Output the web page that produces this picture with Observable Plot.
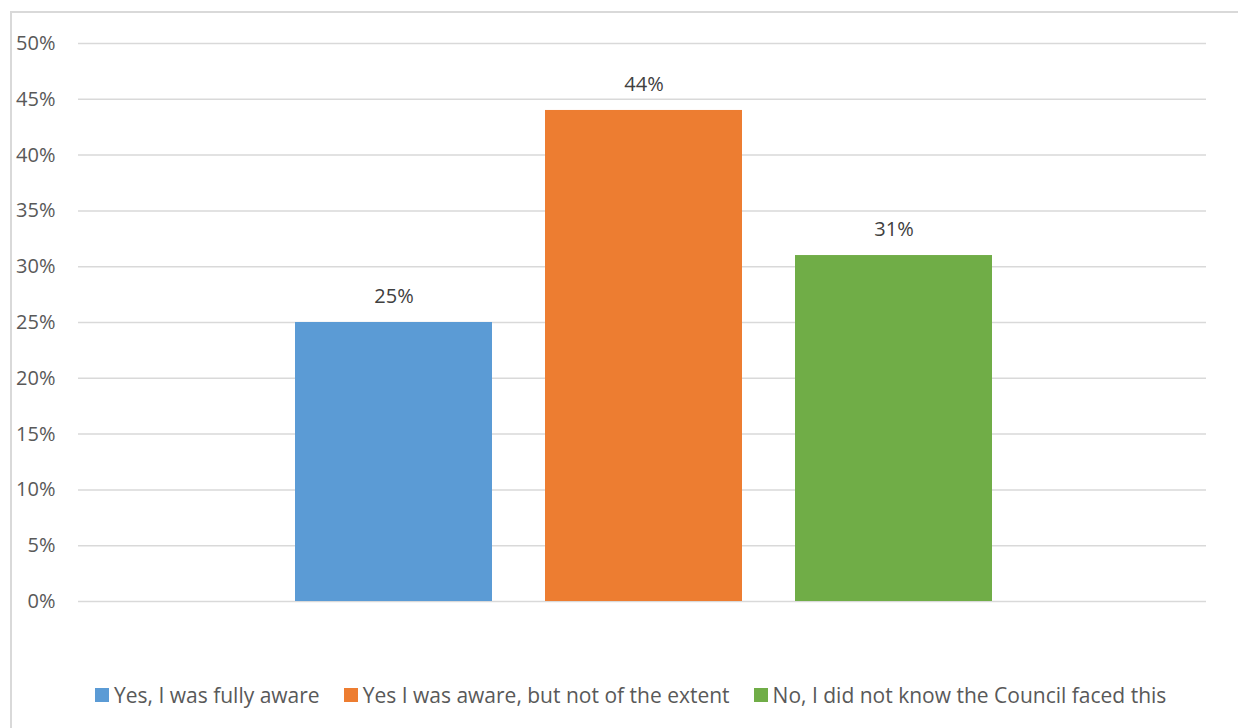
<!DOCTYPE html>
<html>
<head>
<meta charset="utf-8">
<script src="https://cdn.jsdelivr.net/npm/d3@7"></script>
<script src="https://cdn.jsdelivr.net/npm/@observablehq/plot@0.6"></script>
<style>
  body { margin: 0; background: #fff; font-family: "Open Sans", sans-serif; }
  #frame { position: absolute; left: 10px; top: 11px; width: 1400px; height: 900px;
           border-left: 2px solid #d9d9d9; border-top: 2px solid #d9d9d9; }
  #chart { position: absolute; left: 0; top: 0; }
  #legend { position: absolute; left: 95px; top: 681px; display: flex; align-items: center;
            font-size: 21px; color: #595959; white-space: nowrap; }
  .item { display: flex; align-items: center; margin-right: 24px; }
  .sw { width: 14px; height: 14px; margin-right: 5px; }
</style>
</head>
<body>
<div id="frame"></div>
<div id="chart"></div>
<div id="legend"></div>
<script>
const categories = ["Yes, I was fully aware", "Yes I was aware, but not of the extent", "No, I did not know the Council faced this"];
const values = [25, 44, 31];
const colors = ["#5B9BD5", "#ED7D31", "#70AD47"];
const yTicks = [0, 5, 10, 15, 20, 25, 30, 35, 40, 45, 50];

const data = categories.map((c, i) => ({category: c, value: values[i]}));

const plot = Plot.plot({
  width: 1238,
  height: 640,
  marginLeft: 78,
  marginRight: 32,
  marginTop: 43,
  marginBottom: 39,
  style: {fontFamily: "Open Sans, sans-serif", fontSize: "20px", color: "#595959", background: "transparent"},
  x: {domain: categories, range: [294, 992], paddingInner: 0.214, paddingOuter: 0, axis: null},
  y: {domain: [0, 50], ticks: yTicks, tickFormat: d => d + "%", label: null},
  color: {domain: categories, range: colors},
  marks: [
    Plot.gridY(yTicks, {stroke: "#d9d9d9", strokeOpacity: 1, strokeWidth: 1.5}),
    Plot.axisY({ticks: yTicks, tickSize: 0, tickPadding: 23, tickFormat: d => d + "%", label: null, fill: "#595959", fontSize: 20}),
    Plot.barY(data, {x: "category", y: "value", fill: "category"}),
    Plot.text(data, {x: "category", y: "value", text: d => d.value + "%", dy: -26, fill: "#404040", fontSize: 20})
  ]
});
document.getElementById("chart").appendChild(plot);

const legend = document.getElementById("legend");
categories.forEach((c, i) => {
  const item = document.createElement("div");
  item.className = "item";
  const sw = document.createElement("div");
  sw.className = "sw";
  sw.style.background = colors[i];
  const t = document.createElement("span");
  t.textContent = c;
  item.appendChild(sw);
  item.appendChild(t);
  legend.appendChild(item);
});
</script>
</body>
</html>
